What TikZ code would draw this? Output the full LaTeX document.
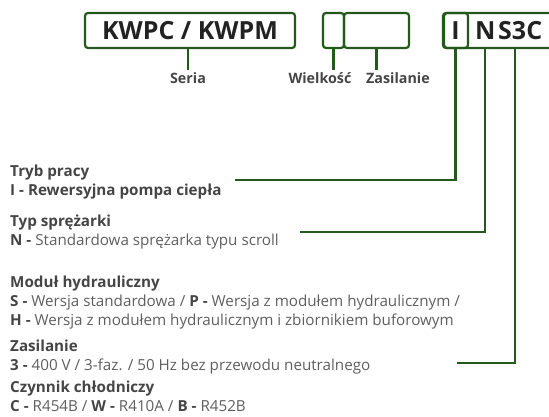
\documentclass[tikz,border=0pt]{standalone}
\usepackage{fontspec}
\setmainfont{Open Sans}
\usetikzlibrary{positioning}
\definecolor{KWgreen}{HTML}{24591C}
\definecolor{KWdark}{HTML}{222222}
\definecolor{KWhead}{HTML}{454545}
\definecolor{KWgray}{HTML}{5F5F5F}
\newcommand{\hd}[1]{{\bfseries\color{KWhead}#1}}

\begin{document}
\begin{tikzpicture}[x=1pt,y=-1pt,
  codebox/.style={draw=KWgreen,line width=2.2pt,rounded corners=3pt,minimum height=35pt,inner sep=0pt},
  lead/.style={draw=KWgreen,line width=2.2pt},
  code/.style={font=\fontsize{25}{30}\bfseries\selectfont,text=KWdark,inner sep=0pt},
  part/.style={font=\fontsize{14.3}{17}\bfseries\selectfont,text=KWhead,inner sep=0pt,anchor=base},
  info/.style={font=\fontsize{15.2}{19}\selectfont,text=KWgray,inner sep=0pt,anchor=base west,align=left}]
  \clip (0,0) rectangle (549,417);

  % model code
  \node[codebox,code,minimum width=210pt] (kwpc) at (190,30.5) {KWPC / KWPM};
  \node[codebox,minimum width=21pt] (wlk) at (333.5,30.5) {};
  \node[codebox,minimum width=65pt] (zas) at (376.5,30.5) {};
  \node[codebox,minimum width=127pt,anchor=west] (opts) at (443,30.5) {};
  \node[codebox,minimum width=25pt] (tryb) at (455.5,30.5) {};
  \node[code] (ilet) at (455.5,31) {I};
  \node[code,anchor=west] (nlet) at (475,31) {N};
  \node[code,anchor=west] (slet) at (498,31) {S3C};

  % labels below the code
  \node[part] (seria) at (188,84) {Seria};
  \node[part] (wielkosc) at (320,84) {Wielkość};
  \node[part] (zasil) at (398,84) {Zasilanie};
  \coordinate (lbl) at (0,70);
  \draw[lead] (seria |- kwpc.south) -- (seria |- lbl);
  \draw[lead] (wlk.south) -- (wlk.south |- lbl);
  \draw[lead] (zas.south) -- (zas.south |- lbl);

  % descriptions (anchored on the last line)
  \node[info] (trybtxt) at (10,196) {\hd{Tryb pracy}\\ \hd{I - Rewersyjna pompa ciepła}};
  \node[info] (typtxt) at (10,245) {\hd{Typ sprężarki}\\ \hd{N -} Standardowa sprężarka typu scroll};
  \node[info] (modtxt) at (10,325) {\hd{Moduł hydrauliczny}\\
    \hd{S -} Wersja standardowa / \hd{P -} Wersja z modułem hydraulicznym /\\
    \hd{H -} Wersja z modułem hydraulicznym i zbiornikiem buforowym};
  \node[info] (zastxt) at (10,370) {\hd{Zasilanie}\\ \hd{3 -} 400 V / 3-faz. / 50 Hz bez przewodu neutralnego};
  \node[info] (czyntxt) at (10,411) {\hd{Czynnik chłodniczy}\\ \hd{C -} R454B / \hd{W -} R410A / \hd{B -} R452B};

  % leaders from the option letters
  \coordinate (trybend) at (235,180);
  \coordinate (sprend) at (300,232);
  \coordinate (zasend) at (457,363);
  \draw[lead] (tryb.south) |- (trybend);
  \draw[lead] (nlet.south |- opts.south) |- (sprend);
  \draw[lead] ([xshift=17pt]slet.west |- opts.south) |- (zasend);
\end{tikzpicture}
\end{document}
